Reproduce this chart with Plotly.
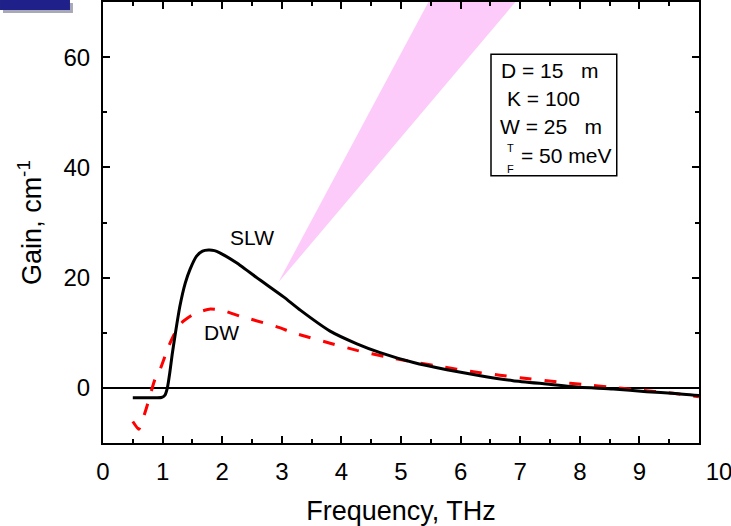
import plotly.graph_objects as go

# ---- data ----
slw_x = [0.5, 0.7, 0.9, 0.98, 1.04, 1.08, 1.12, 1.16, 1.21, 1.29, 1.38, 1.46, 1.57, 1.67,
         1.77, 1.87, 1.96, 2.24, 2.63, 3.03, 3.31, 3.81, 4.26, 4.65, 5.21, 5.77, 6.33,
         6.88, 7.44, 8.0, 8.56, 9.12, 9.6, 10.0]
slw_y = [-1.8, -1.8, -1.8, -1.75, -1.3, 0.0, 2.7, 6.0, 9.6, 14.8, 19.0, 21.5, 23.9, 24.8,
         25.0, 24.9, 24.5, 22.7, 19.6, 16.5, 14.1, 10.3, 8.0, 6.4, 4.6, 3.3, 2.2,
         1.3, 0.7, 0.1, -0.2, -0.7, -1.0, -1.4]

dw_x = [0.5, 0.6, 0.73, 0.87, 0.96, 1.1, 1.2, 1.32, 1.51, 1.65, 1.8, 1.99, 2.3, 2.47,
        2.91, 3.25, 3.81, 4.26, 4.76, 5.21, 5.71, 6.16, 6.66, 7.11, 7.61, 8.06, 8.56,
        9.01, 9.49, 10.0]
dw_y = [-6.1, -7.5, -3.6, 1.5, 3.4, 7.5, 9.8, 11.8, 13.3, 13.9, 14.3, 14.1, 13.0, 12.5,
        11.1, 9.8, 8.1, 6.8, 5.6, 4.7, 3.8, 3.0, 2.3, 1.7, 1.1, 0.6, 0.1,
        -0.4, -0.9, -1.6]

wedge_x = [2.94, 5.46, 6.92, 2.94]
wedge_y = [19.1, 70.0, 70.0, 19.1]

x_ticks = list(range(0, 11))
x_tick_labels = [str(v) for v in range(0, 10)] + ["\u00a0" * 6 + "10"]
y_ticks = [0, 20, 40, 60]

param_lines = ["D = 15\u00a0\u00a0\u00a0m", "K = 100", "W = 25\u00a0\u00a0\u00a0m", "= 50 meV"]

FONT = "Liberation Sans, Arial, sans-serif"

fig = go.Figure()

fig.add_trace(go.Scatter(x=wedge_x, y=wedge_y, fill="toself", fillcolor="#fccbfa",
                         line=dict(width=0, color="#fccbfa"), mode="lines",
                         hoverinfo="skip", showlegend=False))
fig.add_trace(go.Scatter(x=dw_x, y=dw_y, mode="lines",
                         line=dict(color="#ff0000", width=3, dash="12px,13px",
                                   shape="spline", smoothing=0.5),
                         showlegend=False))
fig.add_trace(go.Scatter(x=slw_x, y=slw_y, mode="lines",
                         line=dict(color="black", width=3, shape="spline", smoothing=0.5),
                         showlegend=False))

axis_common = dict(
    showline=True, linecolor="black", linewidth=2, mirror="ticks",
    ticks="inside", ticklen=7, tickwidth=2, tickcolor="black",
    showgrid=False,
    tickfont=dict(family=FONT, size=24, color="black"),
    ticklabelstandoff=6,
    ticklabeloverflow="allow",
)

fig.update_xaxes(range=[0, 10], tickvals=x_ticks, ticktext=x_tick_labels,
                 minor=dict(dtick=0.5, tick0=0, ticks="inside", ticklen=4,
                            tickwidth=2, tickcolor="black", showgrid=False),
                 zeroline=False,
                 title=dict(text="Frequency, THz", font=dict(family=FONT, size=27, color="black"),
                            standoff=17),
                 **axis_common)
fig.update_yaxes(range=[-10, 70], tickvals=y_ticks,
                 minor=dict(dtick=10, tick0=0, ticks="inside", ticklen=4,
                            tickwidth=2, tickcolor="black", showgrid=False),
                 zeroline=True, zerolinecolor="black", zerolinewidth=1.5,
                 title=dict(text="Gain, cm<sup>-1</sup>", font=dict(family=FONT, size=27, color="black"),
                            standoff=14),
                 **axis_common)

shapes = [
    # slide header remnant (shadow + bar)
    dict(type="rect", xref="paper", yref="paper", x0=-0.1678, x1=-0.0504,
         y0=0.9752, y1=0.998, fillcolor="#a8a8b8", line=dict(width=0), layer="above"),
    dict(type="rect", xref="paper", yref="paper", x0=-0.1728, x1=-0.0554,
         y0=0.9819, y1=1.0045, fillcolor="#20208a", line=dict(width=0), layer="above"),
    # parameter box
    dict(type="rect", xref="x", yref="y", x0=6.51, x1=8.62, y0=38.5, y1=60.5,
         fillcolor="white", line=dict(color="black", width=1.5)),
]

annotations = [
    dict(x=2.5, y=27.3, text="SLW", showarrow=False,
         font=dict(family=FONT, size=21, color="black")),
    dict(x=1.98, y=10.0, text="DW", showarrow=False,
         font=dict(family=FONT, size=21, color="black")),
    dict(x=6.64, y=57.5, text=param_lines[0], showarrow=False, xanchor="left",
         font=dict(family=FONT, size=21, color="black")),
    dict(x=6.74, y=52.5, text=param_lines[1], showarrow=False, xanchor="left",
         font=dict(family=FONT, size=21, color="black")),
    dict(x=6.62, y=47.4, text=param_lines[2], showarrow=False, xanchor="left",
         font=dict(family=FONT, size=21, color="black")),
    dict(x=6.98, y=42.2, text=param_lines[3], showarrow=False, xanchor="left",
         font=dict(family=FONT, size=21, color="black")),
    dict(x=6.83, y=43.6, text="T", showarrow=False,
         font=dict(family=FONT, size=11, color="black")),
    dict(x=6.83, y=39.7, text="F", showarrow=False,
         font=dict(family=FONT, size=11, color="black")),
]

fig.update_layout(
    width=731, height=526,
    margin=dict(l=103, r=32, t=2, b=83, autoexpand=False),
    plot_bgcolor="white", paper_bgcolor="white",
    shapes=shapes, annotations=annotations,
    showlegend=False,
    font=dict(family=FONT, color="black"),
)

fig.write_html("out.html", config={"displayModeBar": False},
               post_script="document.body.style.margin='0';document.body.style.padding='0';")
